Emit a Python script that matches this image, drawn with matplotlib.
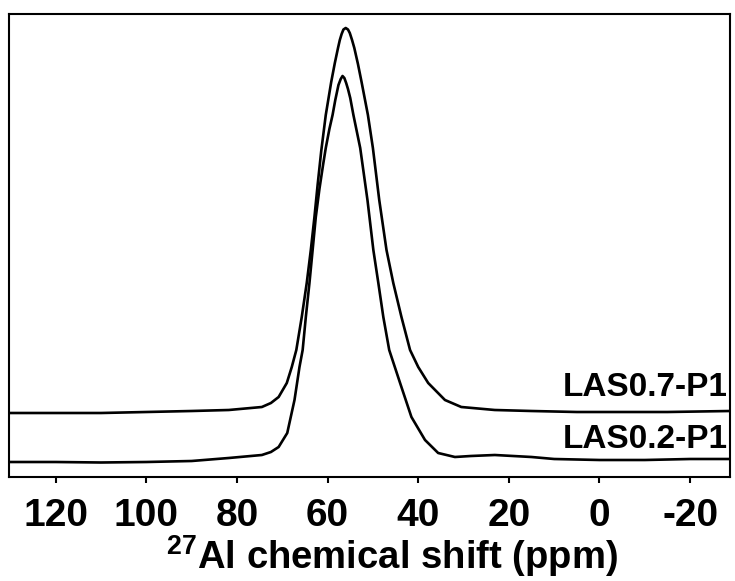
import matplotlib
matplotlib.use("Agg")
import matplotlib.pyplot as plt

# LAS0.7-P1 spectrum (ppm, intensity in arbitrary units incl. vertical offset)
ppm_07 = [130.3, 120, 110, 100, 90, 81.8, 74.5, 72.5, 70.8, 69.0, 67.9, 66.9, 65.7, 64.6,
          63.7, 62.9, 62.2, 61.4, 60.4, 59.2, 58.4, 57.7, 57.3, 56.9, 56.5, 56.0, 55.5,
          55.1, 54.6, 54.1, 53.3, 52.5, 51.1, 50.0, 48.6, 47.0, 45.5, 43.7, 41.8, 40.0,
          37.8, 34.1, 30.5, 23.1, 15, 5, -5, -15, -28.8]
int_07 = [64, 64, 64, 65, 66, 67, 70, 74, 80, 94, 110, 127, 160, 194,
          227, 260, 292, 326, 362, 395, 414, 429, 437, 443, 447.5, 449, 447.5,
          444, 437, 429, 413, 395, 362, 329, 277, 227, 194, 160, 127, 110,
          94, 77, 70, 67, 66, 65, 65, 65, 66]

# LAS0.2-P1 spectrum
ppm_02 = [130.3, 120, 110, 100, 90, 81.8, 74.5, 72.5, 70.8, 68.9, 67.3, 66.2, 65.5, 64.8,
          64.0, 63.3, 62.6, 61.8, 61.0, 60.4, 59.6, 58.9, 58.3, 57.6, 57.1, 56.7, 56.3,
          55.9, 55.5, 55.0, 54.3, 52.8, 51.2, 49.9, 48.8, 47.7, 46.4, 44.0, 41.5, 38.5,
          35.6, 31.9, 28.4, 23.1, 15, 10, 0, -10, -20, -28.8]
int_02 = [15, 15, 14.5, 15, 16, 19, 22, 25, 30, 44, 77, 110, 127, 160,
          194, 227, 260, 288, 312, 329, 348, 362, 377, 392, 398, 401, 399,
          394, 388, 379, 362, 329, 277, 227, 194, 160, 127, 94, 60, 37,
          24, 20, 21, 22, 20, 18, 17, 17, 18, 18]

labels = ["LAS0.7-P1", "LAS0.2-P1"]
xticks = [120, 100, 80, 60, 40, 20, 0, -20]
xlabel = r"$\mathregular{^{27}}$Al chemical shift (ppm)"

plt.rcParams["font.family"] = ["Liberation Sans Narrow", "Liberation Sans", "DejaVu Sans"]
plt.rcParams["font.weight"] = "bold"

fig = plt.figure(figsize=(7.35, 5.81), dpi=100)
ax = fig.add_axes([9/735, 1-477/581, 721/735, 463/581])
ax.plot(ppm_07, int_07, color="black", lw=1.9, solid_joinstyle="round")
ax.plot(ppm_02, int_02, color="black", lw=1.9, solid_joinstyle="round")
ax.set_xlim(130.3, -28.8)
ax.set_ylim(0, 463)
ax.set_yticks([])
ax.set_xticks(xticks)
ax.set_xticklabels([str(t) for t in xticks], fontsize=28, fontweight="bold")
ax.tick_params(axis="x", direction="out", length=4, width=1.5, pad=11)
for s in ax.spines.values():
    s.set_linewidth(1.5)
ax.text(0.9972, (477-388)/463, labels[0], transform=ax.transAxes, ha="right", va="center",
        fontsize=24, fontweight="bold")
ax.text(0.9972, (477-440)/463, labels[1], transform=ax.transAxes, ha="right", va="center",
        fontsize=24, fontweight="bold")
fig.text(392/735, 1-569/581, xlabel, ha="center", va="baseline",
         fontsize=27.5, fontweight="bold")
fig.savefig("out.png", dpi=100)
